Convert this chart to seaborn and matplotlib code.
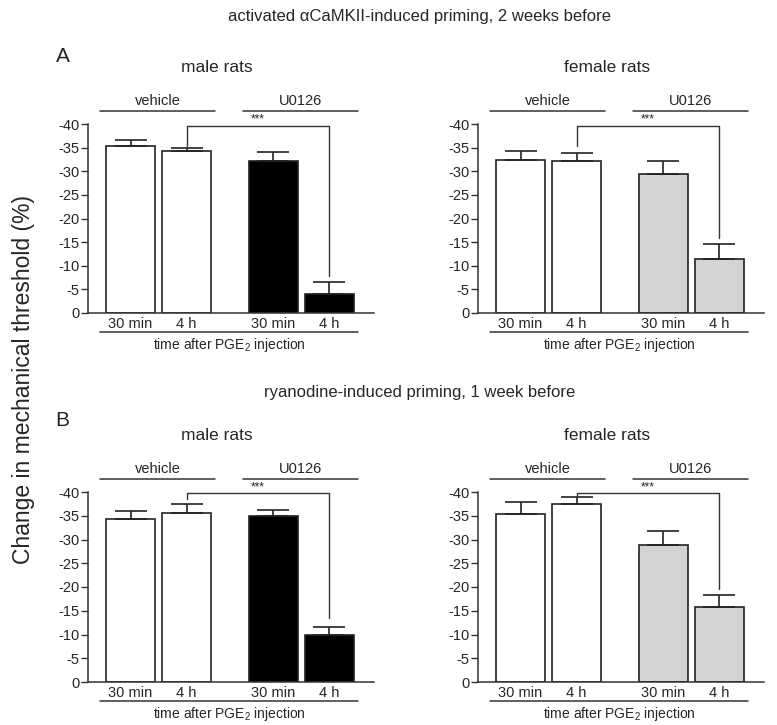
#!/usr/bin/env python3
"""
Bar charts of mechanical threshold change after PGE2, vehicle vs U0126.
"""

import numpy as np
import pandas as pd
import matplotlib
matplotlib.use("Agg")
import matplotlib.pyplot as plt
import matplotlib.transforms as mtransforms
import seaborn as sns

# data (negative = decrease in threshold)
times = ["30 min", "4 h", "30 min", "4 h"]
groups = ["vehicle", "vehicle", "U0126", "U0126"]

male_a_mean = [-35.4, -34.2, -32.2, -4.1]
male_a_sem = [1.3, 0.7, 1.8, 2.5]
female_a_mean = [-32.3, -32.2, -29.4, -11.4]
female_a_sem = [2.0, 1.6, 2.8, 3.1]

male_b_mean = [-34.4, -35.5, -34.9, -10.0]
male_b_sem = [1.7, 1.9, 1.4, 1.6]
female_b_mean = [-35.4, -37.5, -28.8, -15.8]
female_b_sem = [2.4, 1.4, 3.0, 2.6]

# significance brackets: (left leg start, bracket top, right leg end)
male_a_bracket = [-35.4, -39.6, -7.9]
female_a_bracket = [-35.4, -39.6, -15.8]
male_b_bracket = [-38.6, -39.8, -13.5]
female_b_bracket = [-38.9, -39.8, -19.6]

positions = [0.0, 1.0, 2.55, 3.55]

W, H = 777, 725
FONT = ["Liberation Sans", "DejaVu Sans"]


def px_rect(l, t, r, b):
    return [l / W, 1 - b / H, (r - l) / W, (b - t) / H]


def draw_panel(ax, means, sems, u_color, bracket):
    df = pd.DataFrame({"pos": positions, "val": means, "grp": groups})
    sns.barplot(data=df, x="pos", y="val", hue="grp",
                palette={"vehicle": "white", "U0126": u_color},
                native_scale=True, width=0.875, dodge=False, errorbar=None,
                edgecolor="#222222", linewidth=1.2, legend=False, ax=ax)
    # one-sided error bars (upwards)
    ax.errorbar(positions, means, yerr=[sems, np.zeros(len(sems))], fmt="none",
                ecolor="#222222", elinewidth=1.2, capsize=11.5, capthick=1.2)

    ax.set_xlim(-0.76, 4.345)
    ax.set_ylim(0, -40)
    ax.set_yticks(np.arange(0, -41, -5))
    ax.set_yticklabels([str(v) for v in range(0, -41, -5)])
    ax.set_xticks(positions)
    ax.set_xticklabels(times)
    ax.tick_params(axis="x", length=0, pad=3, labelsize=10.5)
    ax.tick_params(axis="y", length=5, width=1, pad=1, labelsize=10.5,
                   direction="out", color="#333333")
    ax.set_xlabel("")
    ax.set_ylabel("")
    sns.despine(ax=ax)
    for sp in ["left", "bottom"]:
        ax.spines[sp].set_linewidth(1.1)
        ax.spines[sp].set_color("#333333")

    trans = mtransforms.blended_transform_factory(ax.transData, ax.transAxes)
    # group lines above the plot
    for (a, b), name in [((0, 1), "vehicle"), ((2, 3), "U0126")]:
        x0 = positions[a] - 0.545
        x1 = positions[b] + 0.51
        ax.plot([x0, x1], [1.069, 1.069], color="#333333", lw=1.1,
                transform=trans, clip_on=False)
        ax.text((x0 + x1) / 2, 1.083, name, ha="center", va="bottom",
                fontsize=10.5, transform=trans)
    # line under x labels
    x0 = positions[0] - 0.545
    x1 = positions[3] + 0.51
    ax.plot([x0, x1], [-0.10, -0.10], color="#333333", lw=1.1,
            transform=trans, clip_on=False)
    ax.text((x0 + x1) / 2, -0.12, "time after PGE$_2$ injection",
            ha="center", va="top", fontsize=10, transform=trans)

    # significance bracket
    xl, xr = positions[1], positions[3]
    y0, ytop, y1 = bracket
    ax.plot([xl, xl, xr, xr], [y0, ytop, ytop, y1], color="#333333",
            lw=1.0, clip_on=False)
    ax.text(2.26, ytop, "***", ha="center", va="bottom", fontsize=8.5)


sns.set_style("ticks")
plt.rcParams["font.family"] = FONT
plt.rcParams["axes.unicode_minus"] = False
plt.rcParams["mathtext.fontset"] = "custom"
plt.rcParams["mathtext.rm"] = "Liberation Sans"
plt.rcParams["mathtext.it"] = "Liberation Sans:italic"
plt.rcParams["mathtext.default"] = "regular"

fig = plt.figure(figsize=(W / 100, H / 100), dpi=100)

ax_ma = fig.add_axes(px_rect(88, 124, 374, 313))
ax_fa = fig.add_axes(px_rect(478, 124, 764, 313))
ax_mb = fig.add_axes(px_rect(88, 492, 374, 682))
ax_fb = fig.add_axes(px_rect(478, 492, 764, 682))

draw_panel(ax_ma, male_a_mean, male_a_sem, "black", male_a_bracket)
draw_panel(ax_fa, female_a_mean, female_a_sem, "#d3d3d3", female_a_bracket)
draw_panel(ax_mb, male_b_mean, male_b_sem, "black", male_b_bracket)
draw_panel(ax_fb, female_b_mean, female_b_sem, "#d3d3d3", female_b_bracket)

for ax, title in [(ax_ma, "male rats"), (ax_fa, "female rats"),
                  (ax_mb, "male rats"), (ax_fb, "female rats")]:
    ax.text(0.45, 1.30, title, ha="center", va="center", fontsize=12.5,
            transform=ax.transAxes)

fig.text(420 / W, 1 - 16 / H, "activated \u03b1CaMKII-induced priming, 2 weeks before",
         ha="center", va="center", fontsize=12)
fig.text(420 / W, 1 - 393 / H, "ryanodine-induced priming, 1 week before",
         ha="center", va="center", fontsize=12)
fig.text(63 / W, 1 - 57 / H, "A", ha="center", va="center", fontsize=15)
fig.text(62 / W, 1 - 420 / H, "B", ha="center", va="center", fontsize=15)
fig.text(24 / W, 1 - 380 / H, "Change in mechanical threshold (%)",
         ha="center", va="center", rotation=90, fontsize=16.5)

fig.savefig("out.png", dpi=100)
plt.close(fig)
